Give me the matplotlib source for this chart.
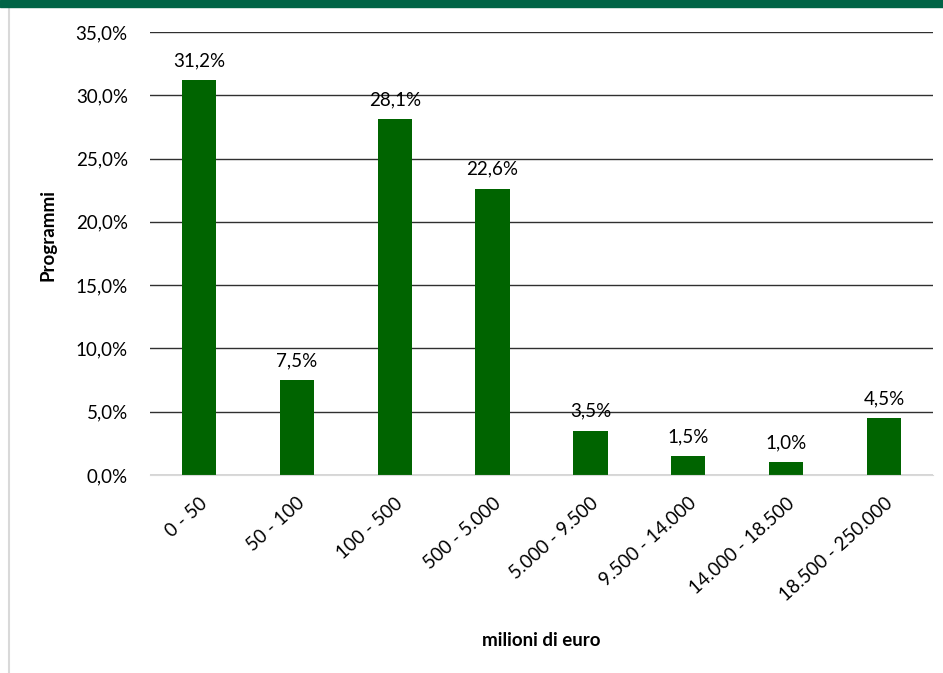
import matplotlib
matplotlib.use("Agg")
import matplotlib.pyplot as plt
from matplotlib.patches import Rectangle
from matplotlib.lines import Line2D

categories = ["0 - 50", "50 - 100", "100 - 500", "500 - 5.000", "5.000 - 9.500",
              "9.500 - 14.000", "14.000 - 18.500", "18.500 - 250.000"]
values = [31.2, 7.5, 28.1, 22.6, 3.5, 1.5, 1.0, 4.5]
yticks = [0, 5, 10, 15, 20, 25, 30, 35]

plt.rcParams['font.family'] = ['Lato', 'DejaVu Sans']
FS = 13.5

fig = plt.figure(figsize=(9.43, 6.73), dpi=100)
fig.patch.set_facecolor('white')
ax = fig.add_axes([150/943, (673-475)/673, (933-150)/943, (475-32)/673])

x = list(range(len(categories)))
ax.bar(x, values, width=0.35, color='#006400', zorder=3)
for xi, v in zip(x, values):
    ax.annotate(f"{v:.1f}%".replace('.', ','), (xi, v), xytext=(0, 8),
                textcoords='offset points', ha='center', va='bottom', fontsize=FS, color='#000000')

ax.set_xlim(-0.5, len(categories) - 0.5)
ax.set_ylim(0, 35)
ax.set_yticks(yticks)
ax.set_yticklabels([f"{t:.1f}%".replace('.', ',') for t in yticks], fontsize=FS)
ax.set_xticks(x)
ax.set_xticklabels(categories, rotation=42, ha='right', rotation_mode='anchor', fontsize=FS)
ax.tick_params(axis='y', length=0, pad=16)
ax.tick_params(axis='x', length=0, pad=14)
ax.yaxis.grid(True, color='#303030', linewidth=1, zorder=0)
for s in ['top', 'right', 'left']:
    ax.spines[s].set_visible(False)
ax.spines['bottom'].set_color('#d9d9d9')
ax.spines['bottom'].set_zorder(4)

fig.text(48/943, 1 - 235/673, "Programmi", rotation=90, ha='center', va='center',
         fontsize=FS, fontweight='bold')
fig.text(541/943, 1 - 640/673, "milioni di euro", ha='center', va='center',
         fontsize=FS, fontweight='bold')

fig.patches.append(Rectangle((0, 1 - 7/673), 1, 7/673, transform=fig.transFigure,
                             color='#006446', zorder=10))
fig.lines.append(Line2D([9/943, 9/943], [0, 1 - 7/673], transform=fig.transFigure,
                        color='#d9d9d9', linewidth=1.5))

fig.savefig("out.png", dpi=100)
